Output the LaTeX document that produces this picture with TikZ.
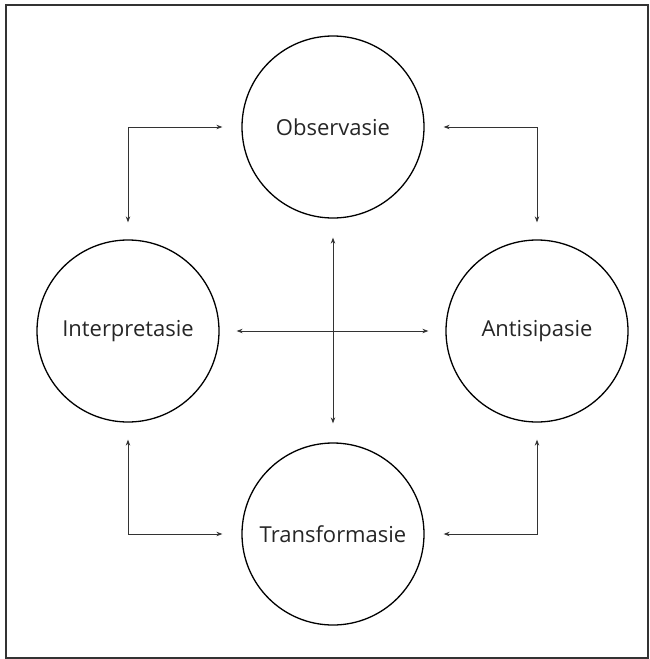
\documentclass[tikz,border=0pt]{standalone}
\usepackage{fontspec}
\setmainfont{Open Sans}
\usetikzlibrary{arrows.meta}
\begin{document}
\begin{tikzpicture}[x=1pt,y=-1pt,
  stage/.style={circle,draw=black,line width=1.3pt,minimum size=182pt,inner sep=0pt,font=\fontsize{22}{24}\selectfont,text=black!85},
  link/.style={draw=black!80,line width=0.8pt,{Stealth[length=6pt,width=4.5pt]}-{Stealth[length=6pt,width=4.5pt]}},
  frame/.style={draw=black!80,line width=1.5pt}]
\useasboundingbox (0,0) rectangle (650,659);
\draw[frame] (6,5) rectangle (648,658);
\node[stage] (obs) at (333,127) {Observasie};
\node[stage] (int) at (128,331) {Interpretasie};
\node[stage] (ant) at (537,331) {Antisipasie};
\node[stage] (tra) at (333,534) {Transformasie};
\draw[link,shorten <=19pt,shorten >=17pt] (obs.west) -| (int.north);
\draw[link,shorten <=19pt,shorten >=17pt] (obs.east) -| (ant.north);
\draw[link,shorten <=19pt,shorten >=17pt] (tra.west) -| (int.south);
\draw[link,shorten <=19pt,shorten >=17pt] (tra.east) -| (ant.south);
\draw[link,shorten <=19pt,shorten >=19pt] (obs.south) -- (tra.north);
\draw[link,shorten <=17pt,shorten >=17pt] (int.east) -- (ant.west);
\end{tikzpicture}
\end{document}
